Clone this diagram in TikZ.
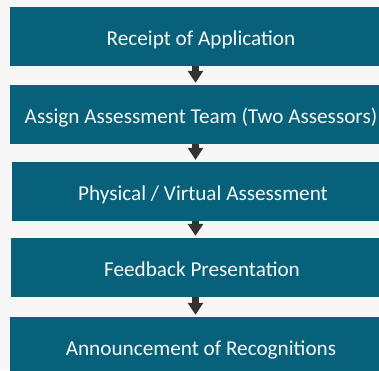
\documentclass[tikz,border=0pt]{standalone}
\usepackage{fontspec}
\setmainfont{Carlito}
\usetikzlibrary{arrows.meta}
\definecolor{stagefill}{HTML}{08617A}
\definecolor{pagebg}{HTML}{F7F7F7}
\definecolor{flowarrow}{HTML}{333333}
\tikzset{
  stage/.style={fill=stagefill,text=white!94!gray,minimum width=382pt,
    minimum height=59pt,inner sep=0pt,text height=17pt,text depth=0pt,
    font=\fontsize{21.2}{25}\selectfont},
  flow/.style={draw=flowarrow,line width=7pt,
    -{Triangle[width=15pt,length=12pt]},shorten >=2pt}
}
\begin{document}
\begin{tikzpicture}[x=1pt,y=-1pt]
  \fill[pagebg] (0,0) rectangle (379,370);
  \useasboundingbox (0,0) rectangle (379,370);
  \clip (0,0) rectangle (379,370);
  \node[stage] (receipt) at (201,36.5) {Receipt of Application};
  \node[stage] (team) at (201,114.5) {Assign Assessment Team (Two Assessors)};
  \node[stage] (visit) at (203,191.5) {Physical / Virtual Assessment};
  \node[stage] (feedback) at (202,267.5) {Feedback Presentation};
  \node[stage] (award) at (201,346.5) {Announcement of Recognitions};
  \draw[flow] ([xshift=-5.5pt]receipt.south) -- ([xshift=-5.5pt]team.north);
  \draw[flow] ([xshift=-5.5pt]team.south) -- ([xshift=-7.5pt]visit.north);
  \draw[flow] ([xshift=-7.5pt]visit.south) -- ([xshift=-6.5pt]feedback.north);
  \draw[flow] ([xshift=-6.5pt]feedback.south) -- ([xshift=-5.5pt]award.north);
\end{tikzpicture}
\end{document}
